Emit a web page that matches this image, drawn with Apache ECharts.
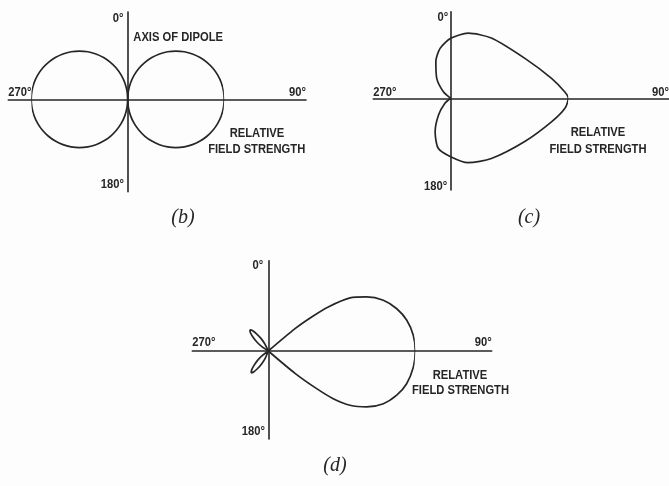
<!DOCTYPE html>
<html>
<head>
<meta charset="utf-8">
<script src="https://cdn.jsdelivr.net/npm/echarts@6/dist/echarts.min.js"></script>
<style>
  html, body { margin: 0; padding: 0; background: #fdfdfd; }
  #chart { width: 669px; height: 486px; }
</style>
</head>
<body>
<div id="chart"></div>
<script>
// ---------------- DATA ----------------
// Angles are bearings in degrees (0° = top, clockwise), values are relative field strength.
const angleTicks = ['0°', '90°', '180°', '270°'];
const dipoleNote = 'AXIS OF DIPOLE';
const strengthTitle = ['RELATIVE', 'FIELD STRENGTH'];
const panelNames = ['b', 'c', 'd'];

// (b) half-wave dipole: figure-eight
const bRightAngles = [0, 5, 10, 15, 20, 25, 30, 35, 40, 45, 50, 55, 60, 65, 70, 75, 80, 85, 90,
                      95, 100, 105, 110, 115, 120, 125, 130, 135, 140, 145, 150, 155, 160, 165, 170, 175, 180];
const bRightValues = [0, 0.087, 0.174, 0.259, 0.342, 0.423, 0.5, 0.574, 0.643, 0.707, 0.766, 0.819, 0.866, 0.906, 0.94, 0.966, 0.985, 0.996, 1,
                      0.996, 0.985, 0.966, 0.94, 0.906, 0.866, 0.819, 0.766, 0.707, 0.643, 0.574, 0.5, 0.423, 0.342, 0.259, 0.174, 0.087, 0];
const bLeftAngles  = [180, 185, 190, 195, 200, 205, 210, 215, 220, 225, 230, 235, 240, 245, 250, 255, 260, 265, 270,
                      275, 280, 285, 290, 295, 300, 305, 310, 315, 320, 325, 330, 335, 340, 345, 350, 355, 360];
const bLeftValues  = [0, 0.087, 0.174, 0.259, 0.342, 0.423, 0.5, 0.574, 0.643, 0.707, 0.766, 0.819, 0.866, 0.906, 0.94, 0.966, 0.985, 0.996, 1,
                      0.996, 0.985, 0.966, 0.94, 0.906, 0.866, 0.819, 0.766, 0.707, 0.643, 0.574, 0.5, 0.423, 0.342, 0.259, 0.174, 0.087, 0];

// (c) heart-shaped (cardioid-like) pattern
const cAngles = [300, 312, 325, 338, 348, 360, 15, 34, 62, 79, 87, 90, 95, 103, 120, 146, 165, 180, 194, 205, 216, 229, 240];
const cValues = [0, 0.084, 0.207, 0.337, 0.434, 0.51, 0.573, 0.618, 0.718, 0.876, 0.974, 1, 0.975, 0.882, 0.731, 0.618, 0.567, 0.497, 0.438, 0.313, 0.176, 0.065, 0];

// (d) directive pattern: main lobe and two small back lobes
const dMainAngles = [47, 50.1, 51.9, 53.7, 57, 61.2, 66.2, 71.8, 77.5, 83.8, 90,
                     96.3, 103.3, 109, 114.6, 119.6, 123.6, 126.3, 127.9, 129.9, 133];
const dMainValues = [0, 0.237, 0.375, 0.506, 0.663, 0.763, 0.855, 0.92, 0.965, 0.992, 1,
                     0.993, 0.967, 0.924, 0.861, 0.77, 0.667, 0.548, 0.417, 0.237, 0];
const dBackUpAngles = [299, 304, 308, 312.6, 316, 319, 322, 325.4, 330, 334, 339];
const dBackUpValues = [0, 0.05, 0.097, 0.144, 0.177, 0.19, 0.177, 0.144, 0.097, 0.05, 0];
const dBackDownAngles = [198, 203, 207, 211.6, 215, 218, 221, 224.4, 229, 233, 238];
const dBackDownValues = [0, 0.05, 0.095, 0.142, 0.174, 0.189, 0.174, 0.142, 0.095, 0.05, 0];

// ---------------- LAYOUT / STYLE ----------------
const INK = '#262626';
const LAYOUT = [
  { origin: [127.7, 99.3], radius: 96.5,  h: [8.3, 306],   v: [12, 191.7] },
  { origin: [450.7, 98.3], radius: 117.6, h: [373.3, 669], v: [11.7, 190] },
  { origin: [268.3, 351],  radius: 147,   h: [192.3, 491.7], v: [260.7, 439] }
];
const LABELS = [
  { top: [123.5, 18], left: [8.3, 92], right: [306, 92], bottom: [124, 184.7], rel: [257, 133.3], fs: [256.7, 149], name: [183, 217.5], note: [133.3, 37.7] },
  { top: [448.3, 17.2], left: [373.3, 92], right: [669, 92], bottom: [447.3, 186.7], rel: [598, 132.5], fs: [598, 149], name: [529, 218] },
  { top: [263.3, 265.3], left: [192.3, 342], right: [491.7, 342], bottom: [265, 431.7], rel: [460, 375.5], fs: [460.5, 390.5], name: [335, 466] }
];
const LABEL_FONT = 'bold 13.5px "Liberation Sans", Arial, sans-serif';
const LABEL_SQUEEZE = 0.83;
const NAME_FONT = 'italic 20px "Liberation Serif", "DejaVu Serif", serif';
const SMOOTH = 0.25;

function pairs(values, angles) { return values.map((v, i) => [v, angles[i]]); }

const grids = [], xAxes = [], yAxes = [], polars = [], angleAxes = [], radiusAxes = [];
LAYOUT.forEach((p, i) => {
  const [ox, oy] = p.origin;
  grids.push({ left: p.h[0], top: p.v[0], width: p.h[1] - p.h[0], height: p.v[1] - p.v[0] });
  const axisCommon = {
    gridIndex: i, type: 'value',
    axisLine: { show: true, onZero: true, lineStyle: { color: INK, width: 1.6 } },
    axisTick: { show: false }, axisLabel: { show: false }, splitLine: { show: false }
  };
  xAxes.push(Object.assign({}, axisCommon, { min: p.h[0] - ox, max: p.h[1] - ox }));
  yAxes.push(Object.assign({}, axisCommon, { min: -(p.v[1] - oy), max: oy - p.v[0] }));
  polars.push({ center: [ox, oy], radius: p.radius });
  angleAxes.push({ polarIndex: i, type: 'value', min: 0, max: 360, startAngle: 90, clockwise: true, show: false });
  radiusAxes.push({ polarIndex: i, type: 'value', min: 0, max: 1, show: false });
});

function lobe(pi, values, angles) {
  return {
    type: 'line', coordinateSystem: 'polar', polarIndex: pi,
    data: pairs(values, angles), smooth: SMOOTH, symbol: 'none', silent: true,
    lineStyle: { color: INK, width: 1.7 }
  };
}

const series = [
  lobe(0, bRightValues, bRightAngles),
  lobe(0, bLeftValues, bLeftAngles),
  lobe(1, cValues, cAngles),
  lobe(2, dMainValues, dMainAngles),
  lobe(2, dBackUpValues, dBackUpAngles),
  lobe(2, dBackDownValues, dBackDownAngles)
];

function txt(text, pos, align, font, squeeze) {
  return { type: 'text', x: pos[0], y: pos[1], silent: true, scaleX: squeeze || 1,
    style: { text: text, x: 0, y: 0, font: font, fill: INK, align: align, verticalAlign: 'middle' } };
}
function label(text, pos, align) { return txt(text, pos, align, LABEL_FONT, LABEL_SQUEEZE); }

const graphics = [];
LABELS.forEach((L, i) => {
  graphics.push(label(angleTicks[0], L.top, 'right'));
  graphics.push(label(angleTicks[3], L.left, 'left'));
  graphics.push(label(angleTicks[1], L.right, 'right'));
  graphics.push(label(angleTicks[2], L.bottom, 'right'));
  graphics.push(label(strengthTitle[0], L.rel, 'center'));
  graphics.push(label(strengthTitle[1], L.fs, 'center'));
  graphics.push(txt('(' + panelNames[i] + ')', L.name, 'center', NAME_FONT, 1));
  if (L.note) graphics.push(label(dipoleNote, L.note, 'left'));
});

const chart = echarts.init(document.getElementById('chart'), null, { renderer: 'canvas' });
chart.setOption({
  animation: false,
  backgroundColor: '#fdfdfd',
  grid: grids, xAxis: xAxes, yAxis: yAxes,
  polar: polars, angleAxis: angleAxes, radiusAxis: radiusAxes,
  series: series,
  graphic: graphics
});
</script>
</body>
</html>
